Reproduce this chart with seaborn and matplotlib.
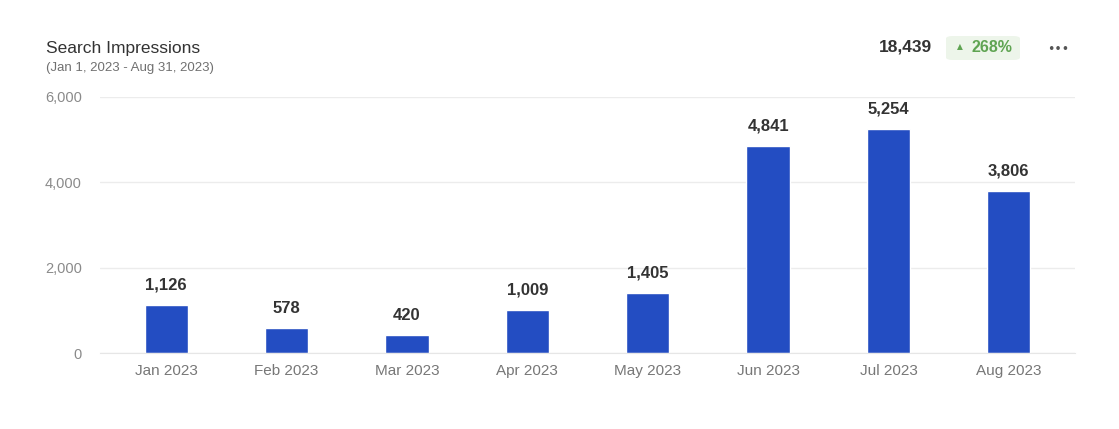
import pandas as pd
import matplotlib
matplotlib.use("Agg")
import matplotlib.pyplot as plt
from matplotlib.patches import FancyBboxPatch
import seaborn as sns

months = ["Jan 2023", "Feb 2023", "Mar 2023", "Apr 2023",
          "May 2023", "Jun 2023", "Jul 2023", "Aug 2023"]
impressions = [1126, 578, 420, 1009, 1405, 4841, 5254, 3806]
y_ticks = [0, 2000, 4000, 6000]

title = "Search Impressions"
subtitle = "(Jan 1, 2023 - Aug 31, 2023)"
total_label = "18,439"
change_label = "268%"

BAR_COLOR = "#234dc2"

sns.set_style("white")
plt.rcParams["font.family"] = ["Liberation Sans", "DejaVu Sans"]

df = pd.DataFrame({"month": months, "value": impressions})

fig = plt.figure(figsize=(11.19, 4.29), dpi=100)
ax = fig.add_axes([0.0894, 0.177, 0.8713, 0.597])

sns.barplot(data=df, x="month", y="value", color=BAR_COLOR, width=0.36,
            saturation=1, ax=ax)

ax.set_ylim(0, 6000)
ax.set_xlim(-0.55, len(months) - 0.45)
ax.set_yticks(y_ticks)
ax.set_yticklabels([f"{v:,}" for v in y_ticks])
ax.yaxis.grid(True, color="#ececec", linewidth=1)
ax.set_axisbelow(True)
ax.set_xlabel("")
ax.set_ylabel("")
for s in ["top", "right", "left"]:
    ax.spines[s].set_visible(False)
ax.spines["bottom"].set_color("#e6e6e6")
ax.tick_params(axis="y", length=0, pad=13, labelsize=10.5, labelcolor="#8a8a8a")
ax.tick_params(axis="x", length=0, pad=8, labelsize=11, labelcolor="#777777")

for i, v in enumerate(impressions):
    ax.annotate(f"{v:,}", (i, v), xytext=(0, 9), textcoords="offset points",
                ha="center", va="bottom", fontsize=12, fontweight="bold",
                color="#333333")

# header
fig.text(46 / 1119, 1 - 48 / 429, title, fontsize=12.5, color="#333333",
         ha="left", va="center")
fig.text(46 / 1119, 1 - 68 / 429, subtitle, fontsize=9.5, color="#707070",
         ha="left", va="center")
fig.text(932 / 1119, 1 - 47 / 429, total_label, fontsize=12.5,
         fontweight="bold", color="#333333", ha="right", va="center")

badge = FancyBboxPatch((946 / 1119, 1 - 60 / 429), 74 / 1119, 24 / 429,
                       boxstyle="round,pad=0,rounding_size=0.006",
                       transform=fig.transFigure, facecolor="#edf5ea",
                       edgecolor="none")
fig.patches.append(badge)
fig.text(960 / 1119, 1 - 46.5 / 429, "\u25b2", fontsize=5.5, color="#5fa452",
         ha="center", va="center", family=["DejaVu Sans"])
fig.text(971 / 1119, 1 - 48 / 429, change_label, fontsize=11.5,
         fontweight="bold", color="#5fa452", ha="left", va="center")
fig.text(1058 / 1119, 1 - 49 / 429, "\u2022\u2022\u2022", fontsize=9,
         color="#555555", ha="center", va="center", family=["DejaVu Sans"])

fig.savefig("out.png", dpi=100, facecolor="white")
